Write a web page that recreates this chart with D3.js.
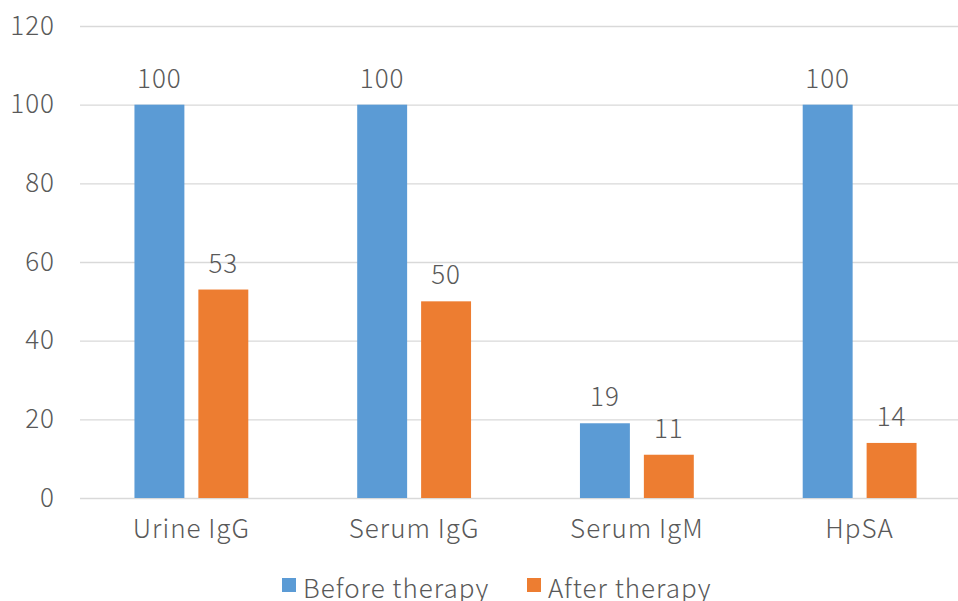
<!DOCTYPE html>
<html>
<head>
<meta charset="utf-8">
<script src="https://cdn.jsdelivr.net/npm/d3@7"></script>
<style>
  html, body { margin: 0; padding: 0; background: #fff; }
  svg { display: block; }
  text { font-family: "Noto Sans CJK JP", "Noto Sans", sans-serif; font-weight: 300; fill: #595959; letter-spacing: 1px; }
</style>
</head>
<body>
<svg id="chart" width="958" height="601"></svg>
<script>
// Chart data
const categories = ["Urine IgG", "Serum IgG", "Serum IgM", "HpSA"];
const seriesNames = ["Before therapy", "After therapy"];
const beforeValues = [100, 100, 19, 100];
const afterValues = [53, 50, 11, 14];
const yTicks = [0, 20, 40, 60, 80, 100, 120];
const colors = ["#5b9bd5", "#ed7d31"];

const svg = d3.select("#chart");
const plot = { left: 80, right: 971, top: 26, bottom: 498 };

const y = d3.scaleLinear().domain([0, 120]).range([plot.bottom, plot.top]);
const x0 = d3.scaleBand().domain(categories).range([plot.left, plot.right]).padding(0);
const x1 = d3.scaleBand().domain(seriesNames).range([0, x0.bandwidth()])
  .paddingInner(0.21875).paddingOuter(0.852);

// Gridlines and y-axis labels
const yAxis = d3.axisLeft(y).tickValues(yTicks).tickSize(-(plot.right - plot.left)).tickPadding(25);
const gy = svg.append("g").attr("transform", `translate(${plot.left},0)`).call(yAxis);
gy.select(".domain").remove();
gy.selectAll(".tick line").attr("stroke", "#d9d9d9").attr("stroke-width", 1.3);
gy.selectAll(".tick text").attr("font-size", 26).style("font-family", "'Noto Sans CJK JP', sans-serif")
  .style("font-weight", 300).attr("fill", "#595959");

// Bars
const rows = categories.map((c, i) => ({ cat: c, vals: [beforeValues[i], afterValues[i]] }));
const groups = svg.append("g").selectAll("g").data(rows).join("g")
  .attr("transform", d => `translate(${x0(d.cat)},0)`);

groups.selectAll("rect").data(d => d.vals.map((v, k) => ({ s: seriesNames[k], v, k })))
  .join("rect")
  .attr("x", d => x1(d.s))
  .attr("width", x1.bandwidth())
  .attr("y", d => y(d.v))
  .attr("height", d => y(0) - y(d.v))
  .attr("fill", d => colors[d.k]);

// Value labels
groups.selectAll("text.val").data(d => d.vals.map((v, k) => ({ s: seriesNames[k], v, k })))
  .join("text").attr("class", "val")
  .attr("x", d => x1(d.s) + x1.bandwidth() / 2)
  .attr("y", d => y(d.v) - 17)
  .attr("text-anchor", "middle")
  .attr("font-size", 26)
  .text(d => d.v);

// Category axis labels
const xAxis = d3.axisBottom(x0).tickSize(0).tickPadding(22);
const gx = svg.append("g").attr("transform", `translate(0,${plot.bottom})`).call(xAxis);
gx.select(".domain").remove();
gx.selectAll(".tick text").attr("font-size", 26).style("font-family", "'Noto Sans CJK JP', sans-serif")
  .style("font-weight", 300).attr("fill", "#595959");

// Legend
const legendItems = [
  { name: seriesNames[0], color: colors[0], x: 282 },
  { name: seriesNames[1], color: colors[1], x: 527 }
];
const lg = svg.append("g");
legendItems.forEach(it => {
  lg.append("rect").attr("x", it.x).attr("y", 578).attr("width", 14).attr("height", 14).attr("fill", it.color);
  lg.append("text").attr("x", it.x + 21).attr("y", 598).attr("font-size", 26).text(it.name);
});
</script>
</body>
</html>
